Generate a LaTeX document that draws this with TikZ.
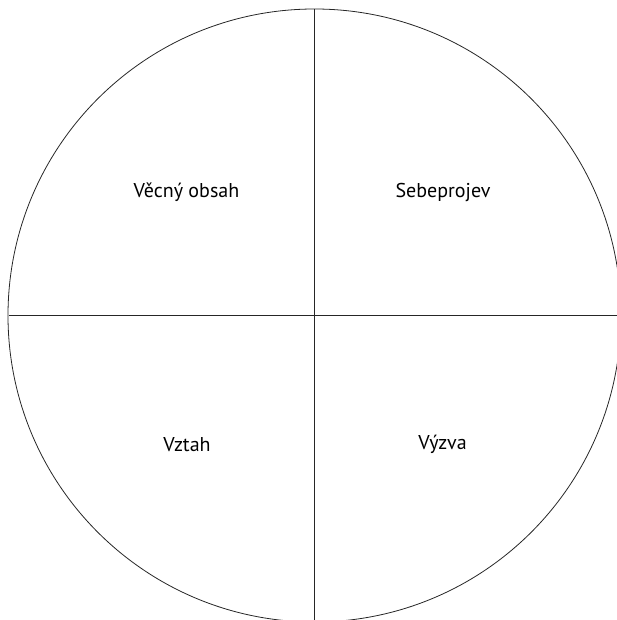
\documentclass[tikz,border=0pt]{standalone}
\usepackage{fontspec}
\setmainfont{PT Sans}
\begin{document}
\begin{tikzpicture}[x=1pt,y=-1pt,
  lbl/.style={font=\fontsize{20}{24}\selectfont, inner sep=0pt, anchor=base},
  ln/.style={line width=1.2pt, draw=black!85}]
\useasboundingbox (0,0) rectangle (617,620);
\begin{scope}
\clip (0,0) rectangle (617,620);
\coordinate (c) at (314.5,315.5);
\draw[line width=0.8pt, draw=black!85] (c) circle[radius=306.5];
\coordinate (top) at (314.5,9);
\coordinate (bot) at (314.5,625);
\coordinate (lft) at (8.5,315.7);
\coordinate (rgt) at (620,315.7);
\draw[ln] (top) -- (bot);
\draw[ln] (lft) -- (rgt);
\end{scope}
\node[lbl] (a) at (186.5,197) {Věcný obsah};
\node[lbl] (b) at (443,197) {Sebeprojev};
\node[lbl] (d) at (187,451.5) {Vztah};
\node[lbl] (e) at (442.5,449) {Výzva};
\end{tikzpicture}
\end{document}
